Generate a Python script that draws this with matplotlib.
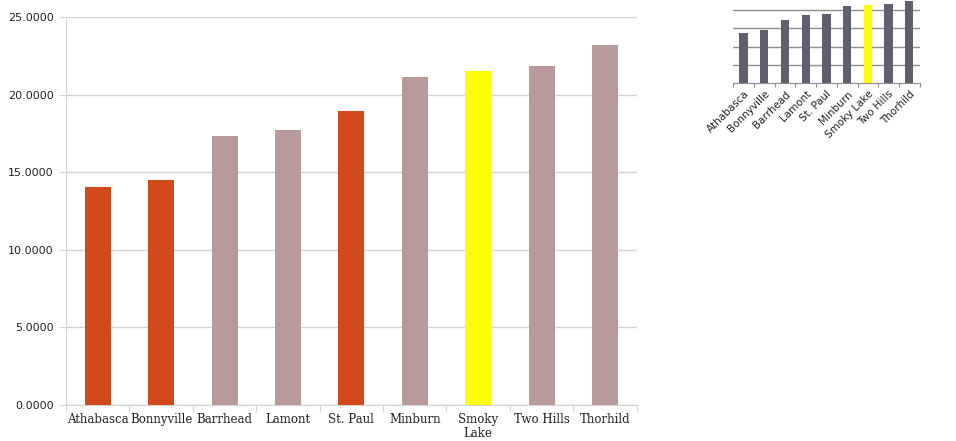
import matplotlib.pyplot as plt

towns = ["Athabasca", "Bonnyville", "Barrhead", "Lamont", "St. Paul",
         "Minburn", "Smoky\nLake", "Two Hills", "Thorhild"]
values = [14.05, 14.5, 17.32, 17.72, 18.95, 21.12, 21.5, 21.86, 23.2]
highlight = ["red", "red", "grey", "grey", "red", "grey", "yellow", "grey", "grey"]
yticks = [0, 5, 10, 15, 20, 25]

inset_towns = ["Athabasca", "Bonnyville", "Barrhead", "Lamont", "St. Paul",
               "Minburn", "Smoky Lake", "Two Hills", "Thorhild"]
inset_values = [13.6, 14.45, 17.35, 18.7, 18.8, 21.0, 21.35, 21.7, 22.4]

COLORS = {"red": "#D24A19", "grey": "#B99A9A", "yellow": "#FFFF00"}
GRID = "#D4D4D4"

fig = plt.figure(figsize=(9.56, 4.41), dpi=100)

# main chart
ax = fig.add_axes([0.069, 0.0816, 0.597, 0.88])
x = range(len(towns))
ax.bar(x, values, width=0.41, color=[COLORS[c] for c in highlight], zorder=3)
ax.set_xlim(-0.5, len(towns) - 0.5)
ax.set_ylim(0, 25)
ax.set_yticks(yticks)
ax.set_yticklabels([f"{v:.4f}" for v in yticks], fontsize=8,
                   family="DejaVu Sans", color="#222222")
ax.yaxis.grid(True, color=GRID, lw=1, zorder=0)
ax.set_xticks([i + 0.5 for i in range(-1, len(towns))], minor=False)
ax.set_xticklabels([])
ax.set_xticks(list(x), minor=True)
ax.set_xticklabels(towns, minor=True, fontsize=8.5, family="DejaVu Serif",
                   color="#222222", linespacing=1.1)
ax.tick_params(axis="x", which="major", length=5, color=GRID)
ax.tick_params(axis="x", which="minor", length=0, pad=6)
ax.tick_params(axis="y", length=5, color=GRID, pad=4)
for s in ["top", "right"]:
    ax.spines[s].set_visible(False)
for s in ["left", "bottom"]:
    ax.spines[s].set_color(GRID)

# small inset chart (cropped at the top)
ins = fig.add_axes([0.767, 0.811, 0.195, 0.208])
ix = range(len(inset_towns))
ins.bar(ix, inset_values, width=0.4,
        color=["#FFFF00" if t == "Smoky Lake" else "#5E5F6F" for t in inset_towns],
        zorder=3)
ins.set_xlim(-0.5, len(inset_towns) - 0.5)
ins.set_ylim(0, 25)
ins.set_yticks([5, 10, 15, 20, 25])
ins.set_yticklabels([])
ins.yaxis.grid(True, color="#8E8E8E", lw=1, zorder=0)
ins.tick_params(axis="y", length=0)
ins.set_xticks([i + 0.5 for i in range(-1, len(inset_towns))])
ins.set_xticklabels([])
ins.set_xticks(list(ix), minor=True)
ins.set_xticklabels(inset_towns, minor=True, rotation=45, ha="right",
                    rotation_mode="anchor", fontsize=7.5, family="DejaVu Sans",
                    color="#222222")
ins.tick_params(axis="x", which="major", length=3, color="#8E8E8E")
ins.tick_params(axis="x", which="minor", length=0, pad=4)
for s in ["top", "right", "left"]:
    ins.spines[s].set_visible(False)
ins.spines["bottom"].set_color("#8E8E8E")

fig.savefig("out.png", dpi=100)
